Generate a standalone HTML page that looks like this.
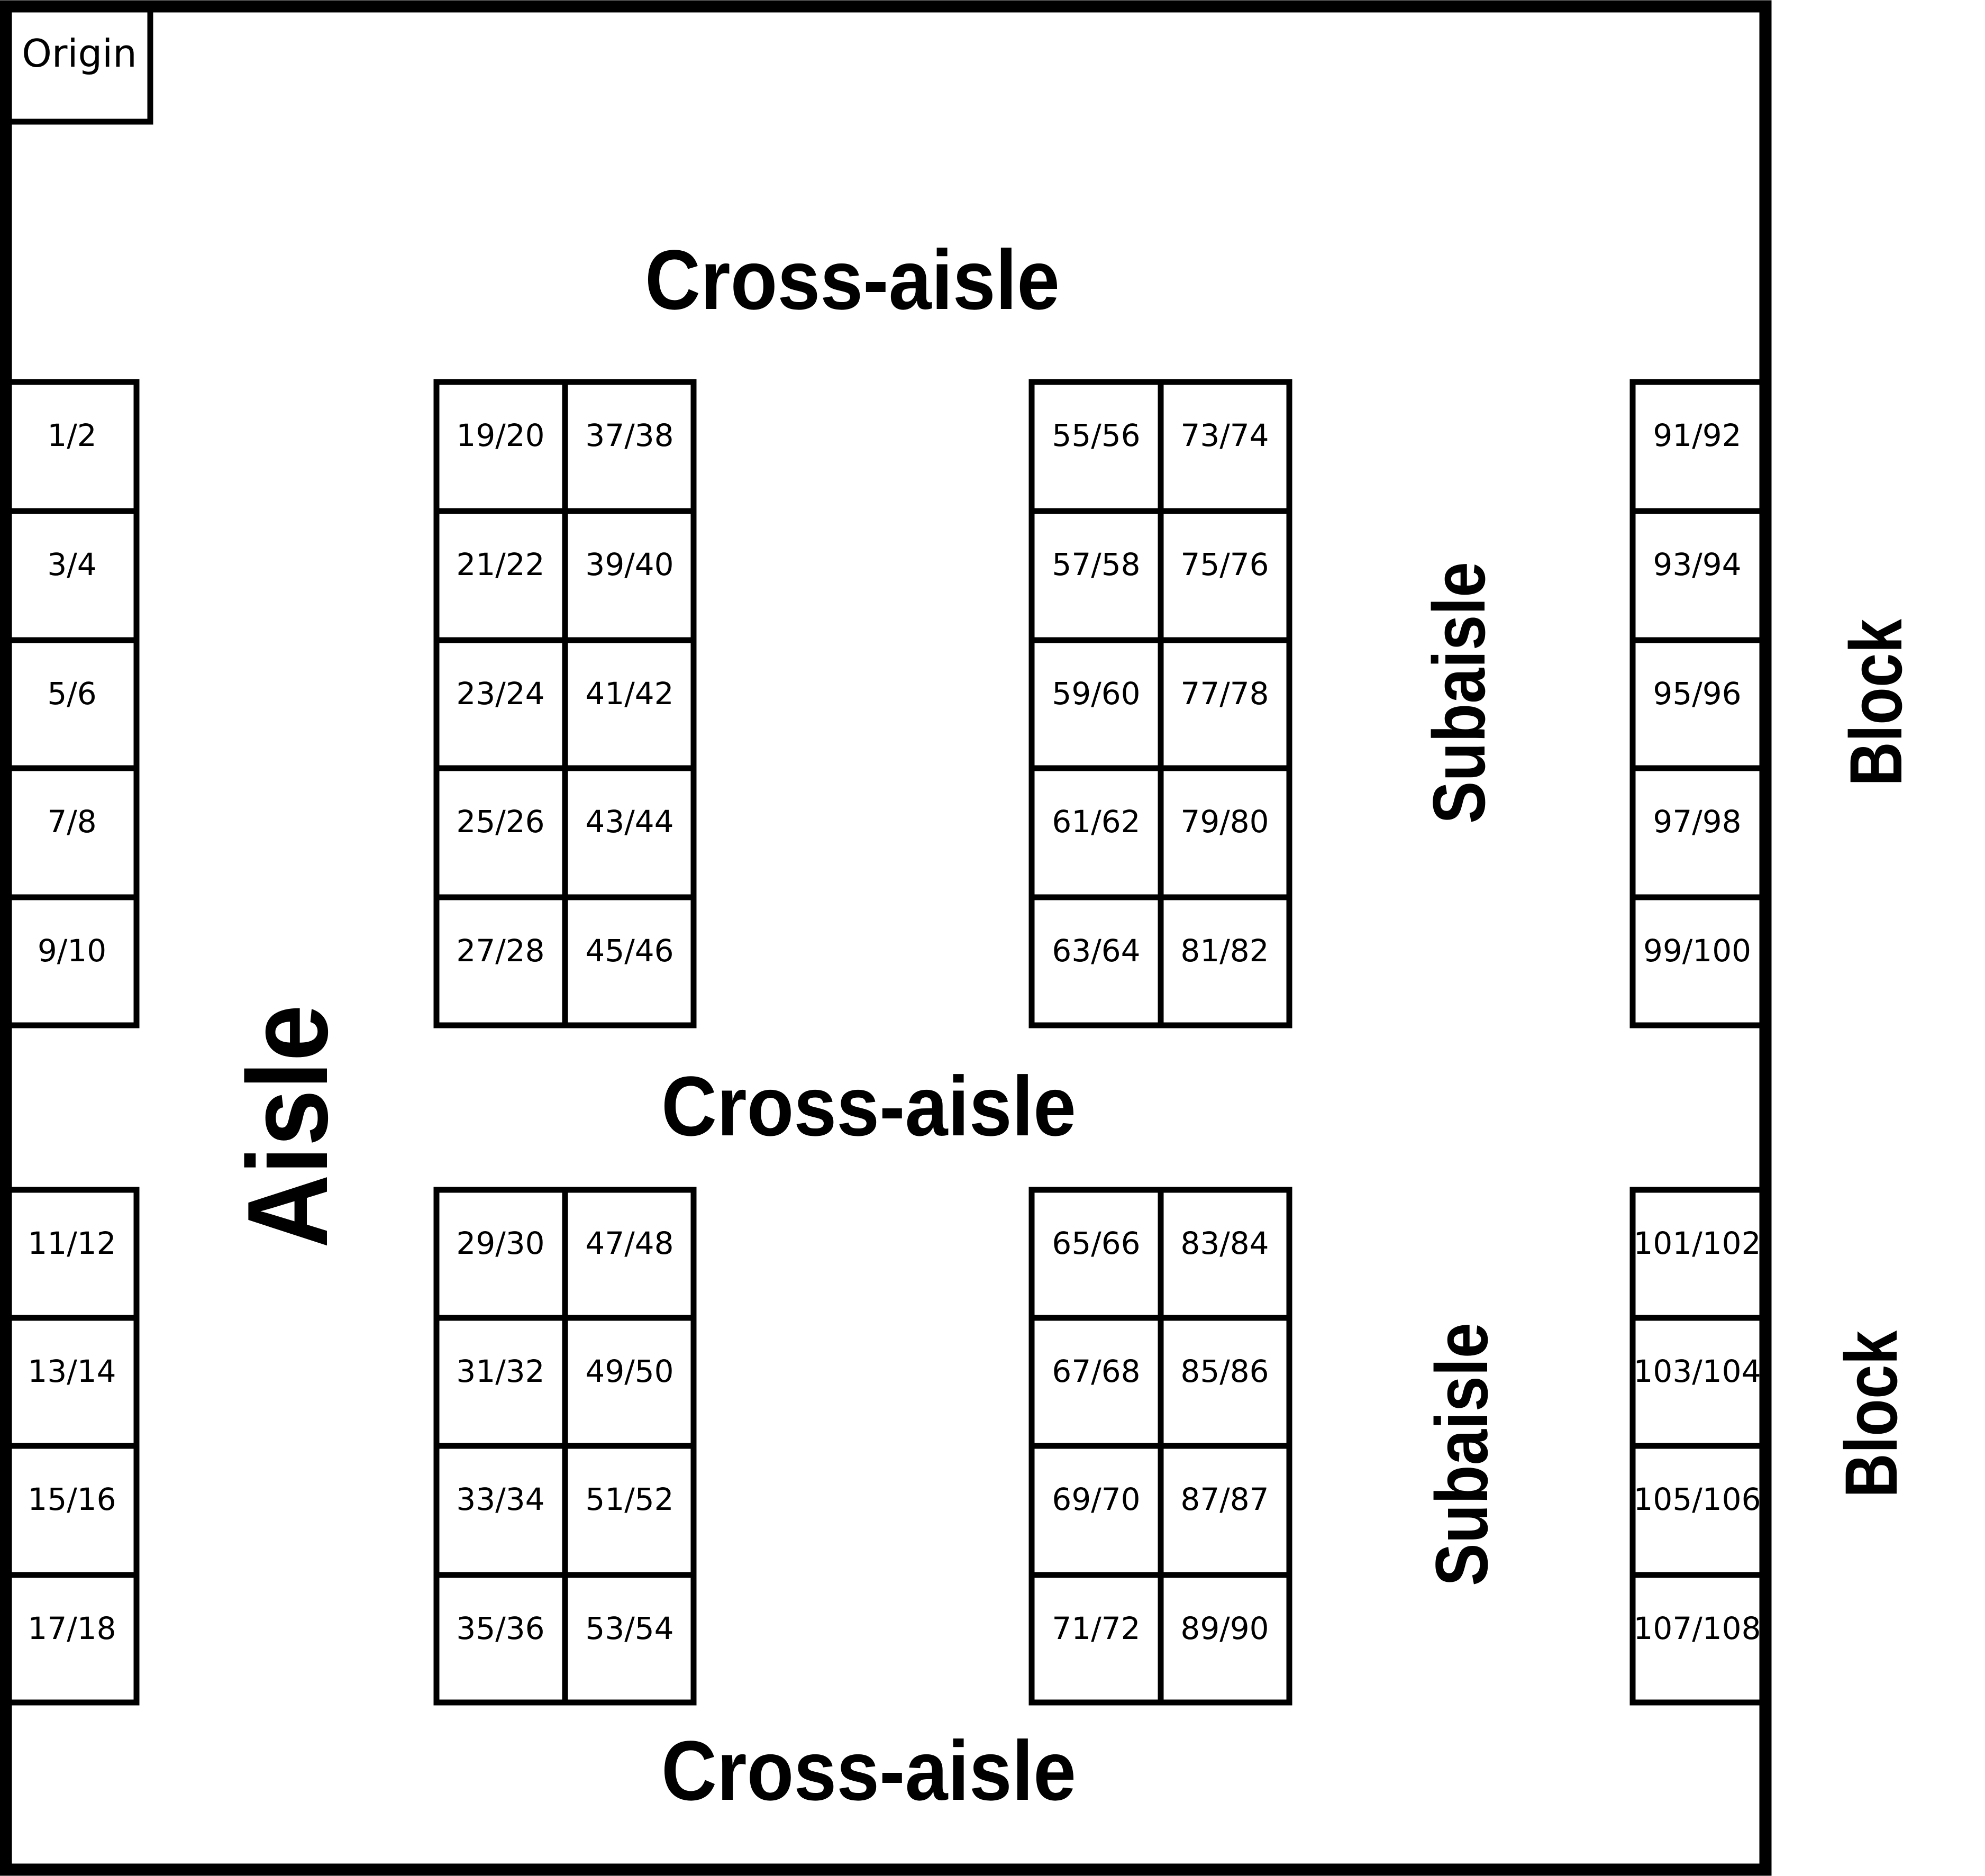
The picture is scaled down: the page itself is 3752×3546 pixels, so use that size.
<!DOCTYPE html>
<html><head><meta charset="utf-8"><style>html,body{margin:0;padding:0;background:#fff}svg{display:block}</style></head>
<body>
<svg xmlns="http://www.w3.org/2000/svg" width="3752" height="3546" viewBox="0 0 3752 3546">
<rect width="3752" height="3546" fill="#fff"/>
<g fill="none" stroke="#000" stroke-width="11">
<rect x="15" y="722" width="243" height="1216"/>
<line x1="15" y1="966" x2="258" y2="966"/><line x1="15" y1="1210" x2="258" y2="1210"/><line x1="15" y1="1452" x2="258" y2="1452"/><line x1="15" y1="1696" x2="258" y2="1696"/>
<rect x="15" y="2249" width="243" height="969"/>
<line x1="15" y1="2491" x2="258" y2="2491"/><line x1="15" y1="2733" x2="258" y2="2733"/><line x1="15" y1="2977" x2="258" y2="2977"/>
<rect x="825" y="722" width="486" height="1216"/>
<line x1="1068" y1="722" x2="1068" y2="1938"/>
<line x1="825" y1="966" x2="1311" y2="966"/><line x1="825" y1="1210" x2="1311" y2="1210"/><line x1="825" y1="1452" x2="1311" y2="1452"/><line x1="825" y1="1696" x2="1311" y2="1696"/>
<rect x="825" y="2249" width="486" height="969"/>
<line x1="1068" y1="2249" x2="1068" y2="3218"/>
<line x1="825" y1="2491" x2="1311" y2="2491"/><line x1="825" y1="2733" x2="1311" y2="2733"/><line x1="825" y1="2977" x2="1311" y2="2977"/>
<rect x="1950" y="722" width="487" height="1216"/>
<line x1="2194" y1="722" x2="2194" y2="1938"/>
<line x1="1950" y1="966" x2="2437" y2="966"/><line x1="1950" y1="1210" x2="2437" y2="1210"/><line x1="1950" y1="1452" x2="2437" y2="1452"/><line x1="1950" y1="1696" x2="2437" y2="1696"/>
<rect x="1950" y="2249" width="487" height="969"/>
<line x1="2194" y1="2249" x2="2194" y2="3218"/>
<line x1="1950" y1="2491" x2="2437" y2="2491"/><line x1="1950" y1="2733" x2="2437" y2="2733"/><line x1="1950" y1="2977" x2="2437" y2="2977"/>
<rect x="3086" y="722" width="251" height="1216"/>
<line x1="3086" y1="966" x2="3337" y2="966"/><line x1="3086" y1="1210" x2="3337" y2="1210"/><line x1="3086" y1="1452" x2="3337" y2="1452"/><line x1="3086" y1="1696" x2="3337" y2="1696"/>
<rect x="3086" y="2249" width="251" height="969"/>
<line x1="3086" y1="2491" x2="3337" y2="2491"/><line x1="3086" y1="2733" x2="3337" y2="2733"/><line x1="3086" y1="2977" x2="3337" y2="2977"/>
<rect x="10" y="12" width="274" height="218"/>
</g>
<rect x="11" y="12" width="3326" height="3522" fill="none" stroke="#000" stroke-width="23"/>
<g font-family="DejaVu Sans, sans-serif" font-size="58" text-anchor="middle" fill="#000">
<text x="150" y="126" font-size="72">Origin</text>
<text x="136" y="843">1/2</text><text x="136" y="1087">3/4</text><text x="136" y="1331">5/6</text><text x="136" y="1573">7/8</text><text x="136" y="1817">9/10</text>
<text x="136" y="2370">11/12</text><text x="136" y="2612">13/14</text><text x="136" y="2854">15/16</text><text x="136" y="3098">17/18</text>
<text x="946" y="843">19/20</text><text x="946" y="1087">21/22</text><text x="946" y="1331">23/24</text><text x="946" y="1573">25/26</text><text x="946" y="1817">27/28</text>
<text x="1190" y="843">37/38</text><text x="1190" y="1087">39/40</text><text x="1190" y="1331">41/42</text><text x="1190" y="1573">43/44</text><text x="1190" y="1817">45/46</text>
<text x="946" y="2370">29/30</text><text x="946" y="2612">31/32</text><text x="946" y="2854">33/34</text><text x="946" y="3098">35/36</text>
<text x="1190" y="2370">47/48</text><text x="1190" y="2612">49/50</text><text x="1190" y="2854">51/52</text><text x="1190" y="3098">53/54</text>
<text x="2072" y="843">55/56</text><text x="2072" y="1087">57/58</text><text x="2072" y="1331">59/60</text><text x="2072" y="1573">61/62</text><text x="2072" y="1817">63/64</text>
<text x="2315" y="843">73/74</text><text x="2315" y="1087">75/76</text><text x="2315" y="1331">77/78</text><text x="2315" y="1573">79/80</text><text x="2315" y="1817">81/82</text>
<text x="2072" y="2370">65/66</text><text x="2072" y="2612">67/68</text><text x="2072" y="2854">69/70</text><text x="2072" y="3098">71/72</text>
<text x="2315" y="2370">83/84</text><text x="2315" y="2612">85/86</text><text x="2315" y="2854">87/87</text><text x="2315" y="3098">89/90</text>
<text x="3208" y="843">91/92</text><text x="3208" y="1087">93/94</text><text x="3208" y="1331">95/96</text><text x="3208" y="1573">97/98</text><text x="3208" y="1817">99/100</text>
<text x="3208" y="2370">101/102</text><text x="3208" y="2612">103/104</text><text x="3208" y="2854">105/106</text><text x="3208" y="3098">107/108</text>
</g>
<g font-family="Liberation Sans, Arial, sans-serif" font-weight="bold" fill="#000">
<text x="1219" y="584" font-size="160" textLength="784" lengthAdjust="spacingAndGlyphs">Cross-aisle</text>
<text x="1250" y="2146" font-size="160" textLength="784" lengthAdjust="spacingAndGlyphs">Cross-aisle</text>
<text x="1250" y="3402" font-size="160" textLength="784" lengthAdjust="spacingAndGlyphs">Cross-aisle</text>
<text transform="translate(618,2359) rotate(-90)" font-size="216" textLength="460" lengthAdjust="spacingAndGlyphs">Aisle</text>
<text transform="translate(2806,1557) rotate(-90)" font-size="140" textLength="495" lengthAdjust="spacingAndGlyphs">Subaisle</text>
<text transform="translate(2811,2998) rotate(-90)" font-size="140" textLength="498" lengthAdjust="spacingAndGlyphs">Subaisle</text>
<text transform="translate(3594,1486) rotate(-90)" font-size="140" textLength="316" lengthAdjust="spacingAndGlyphs">Block</text>
<text transform="translate(3585,2831) rotate(-90)" font-size="140" textLength="316" lengthAdjust="spacingAndGlyphs">Block</text>
</g>
</svg>
</body></html>
